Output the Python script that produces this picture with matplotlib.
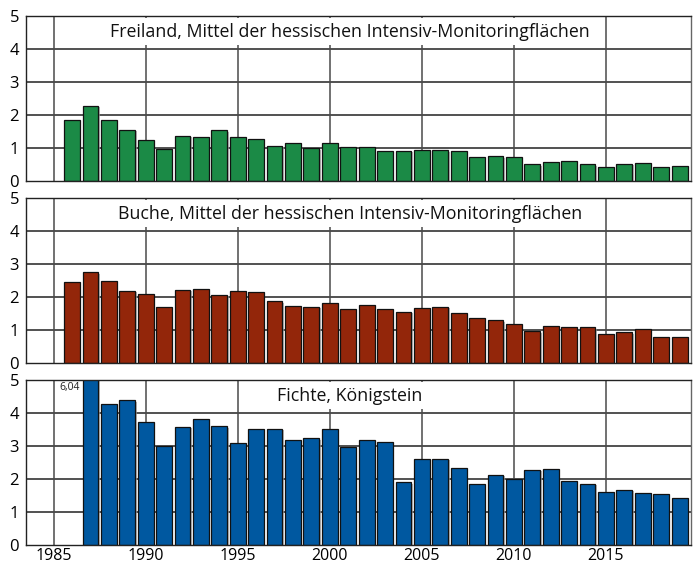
import matplotlib.pyplot as plt
import matplotlib.patheffects as pe
import numpy as np

plt.rcParams['font.family'] = ['Open Sans', 'DejaVu Sans']

# Jahre
years_long = np.arange(1986, 2020)
years_fichte = np.arange(1987, 2020)

# Freiland
freiland = [1.84, 2.27, 1.84, 1.56, 1.24, 0.96, 1.37, 1.33, 1.54, 1.33,
            1.26, 1.06, 1.14, 0.99, 1.16, 1.02, 1.02, 0.90, 0.92, 0.94,
            0.93, 0.90, 0.74, 0.75, 0.74, 0.51, 0.59, 0.60, 0.51, 0.41,
            0.52, 0.56, 0.41, 0.46]
# Buche
buche = [2.45, 2.75, 2.47, 2.18, 2.08, 1.71, 2.21, 2.24, 2.06, 2.18,
         2.15, 1.87, 1.74, 1.71, 1.82, 1.65, 1.75, 1.65, 1.56, 1.67,
         1.71, 1.53, 1.37, 1.29, 1.18, 0.96, 1.12, 1.10, 1.08, 0.87,
         0.93, 1.04, 0.79, 0.78]
# Fichte, Koenigstein
fichte = [6.04, 4.28, 4.39, 3.74, 3.00, 3.58, 3.83, 3.60, 3.08, 3.52,
          3.53, 3.17, 3.23, 3.52, 2.98, 3.19, 3.12, 1.90, 2.60, 2.62,
          2.34, 1.86, 2.12, 2.00, 2.28, 2.30, 1.95, 1.85, 1.61, 1.68,
          1.59, 1.54, 1.41]

titles = ['Freiland, Mittel der hessischen Intensiv-Monitoringflächen',
          'Buche, Mittel der hessischen Intensiv-Monitoringflächen',
          'Fichte, Königstein']
colors = ['#1b8a46', '#93260a', '#0058a0']
xvals = [years_long, years_long, years_fichte]
yvals = [freiland, buche, fichte]

fig = plt.figure(figsize=(6.99, 5.65), dpi=100)
W, H = 699.0, 565.0
left, right = 26 / W, 691 / W
tops = [16, 198, 380]
ph = 165

shadow = [pe.SimplePatchShadow(offset=(1, -1), shadow_rgbFace='#9a9a9a', alpha=0.7),
          pe.Normal()]

for i in range(3):
    ax = fig.add_axes([left, 1 - (tops[i] + ph) / H, right - left, ph / H])
    ax.set_xlim(1983.5, 2019.62)
    ax.set_ylim(0, 5)

    # Gitter von Hand, damit der Titelkasten die Linien abdeckt
    for y in range(1, 5):
        ax.axhline(y, color='#222222', lw=1.1, zorder=0.5)
    for x in range(1985, 2020, 5):
        ax.axvline(x, color='#4a4a4a', lw=1.1, zorder=0.5)

    bars = ax.bar(xvals[i], yvals[i], width=0.86, color=colors[i],
                  edgecolor='#111111', linewidth=0.9, zorder=2)
    for b in bars:
        b.set_path_effects(shadow)

    ax.text(0.487, 0.905, titles[i], transform=ax.transAxes, ha='center',
            va='center', fontsize=12.8, color='#111111', zorder=1.5,
            bbox=dict(facecolor='white', edgecolor='none', pad=3.5))

    ax.set_yticks(range(6))
    ax.tick_params(axis='y', length=0, pad=5, labelsize=12)
    ax.set_xticks(range(1985, 2020, 5))
    if i == 2:
        ax.tick_params(axis='x', length=0, pad=2, labelsize=11.5)
    else:
        ax.tick_params(axis='x', length=0, labelbottom=False)

    for s in ax.spines.values():
        s.set_color('#222222')
        s.set_linewidth(1.0)
        s.set_zorder(3)
    ax.spines['right'].set_color('#666666')

    if i == 2:
        ax.text(1986.42, 4.77, '6,04', ha='right', va='center', fontsize=7.5,
                color='#222222')

fig.savefig('out.png', dpi=100)
